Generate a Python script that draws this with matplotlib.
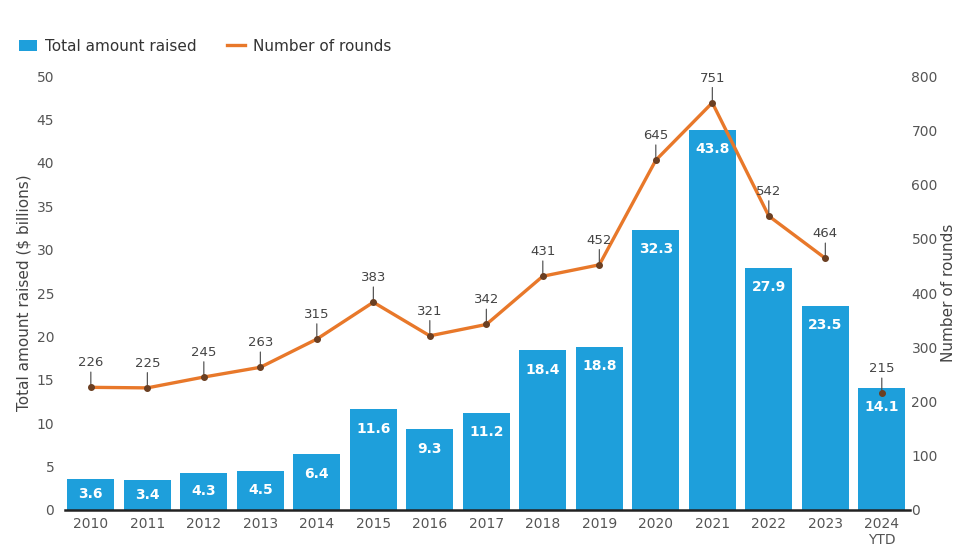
import numpy as np
import matplotlib.pyplot as plt

years = ['2010', '2011', '2012', '2013', '2014', '2015', '2016', '2017', '2018',
         '2019', '2020', '2021', '2022', '2023', '2024\nYTD']
amount = [3.6, 3.4, 4.3, 4.5, 6.4, 11.6, 9.3, 11.2, 18.4, 18.8, 32.3, 43.8, 27.9, 23.5, 14.1]
rounds = [226, 225, 245, 263, 315, 383, 321, 342, 431, 452, 645, 751, 542, 464, 215]

blue = '#1e9fdb'
orange = '#e8782a'
grey = '#555555'

fig = plt.figure(figsize=(9.62, 5.56), dpi=100)
ax = fig.add_axes([0.068, 0.083, 0.878, 0.78])
ax2 = ax.twinx()

x = np.arange(len(years))
bars = ax.bar(x, amount, width=0.83, color=blue, label='Total amount raised', zorder=2)
for i, v in enumerate(amount):
    off = -v * 8.68 / 2 / 1.39 if v < 5 else -14
    ax.annotate(f'{v}', (i, v), xytext=(0, off), textcoords='offset points',
                ha='center', va='center', color='white', fontsize=10, fontweight='bold')

ax.set_ylim(0, 50)
ax.set_xlim(-0.45, 14.5)
ax.set_yticks(range(0, 51, 5))
ax.set_xticks(x)
ax.set_xticklabels(years)
ax.set_ylabel('Total amount raised ($ billions)', color='#444444', fontsize=11, labelpad=4)

# rounds line (2024 YTD shown on its own, not joined)
ax2.plot(x[:-1], rounds[:-1], color=orange, lw=2.4, zorder=3, label='Number of rounds')
ax2.plot(x, rounds, 'o', ms=4, color='#6b3f22', zorder=4)
for i, v in enumerate(rounds):
    ax2.annotate(str(v), (i, v), xytext=(0, 13), textcoords='offset points',
                 ha='center', va='bottom', fontsize=9.5, color='#444444',
                 arrowprops=dict(arrowstyle='-', color='#444444', lw=0.8,
                                 shrinkA=0, shrinkB=2))
ax2.set_ylim(0, 800)
ax2.set_yticks(range(0, 801, 100))
ax2.set_ylabel('Number of rounds', color='#444444', fontsize=11, labelpad=2)

for a in (ax, ax2):
    for s in a.spines.values():
        s.set_visible(False)
    a.tick_params(length=0, labelsize=10, colors=grey)
ax.tick_params(axis='y', pad=8)
ax2.tick_params(axis='y', pad=1)
ax.spines['bottom'].set_visible(True)
ax.spines['bottom'].set_color('#222222')
ax.spines['bottom'].set_linewidth(1.8)
ax.tick_params(axis='x', pad=5)
ax2.set_zorder(ax.get_zorder() + 1)
ax2.patch.set_visible(False)

h1, l1 = ax.get_legend_handles_labels()
h2, l2 = ax2.get_legend_handles_labels()
fig.legend(h1 + h2, l1 + l2, loc='upper left', bbox_to_anchor=(0.005, 0.955),
           ncol=2, frameon=False, fontsize=11, handlelength=1.2, handletextpad=0.5,
           labelcolor='#333333', columnspacing=2.0)

fig.savefig('out.png', dpi=100)
